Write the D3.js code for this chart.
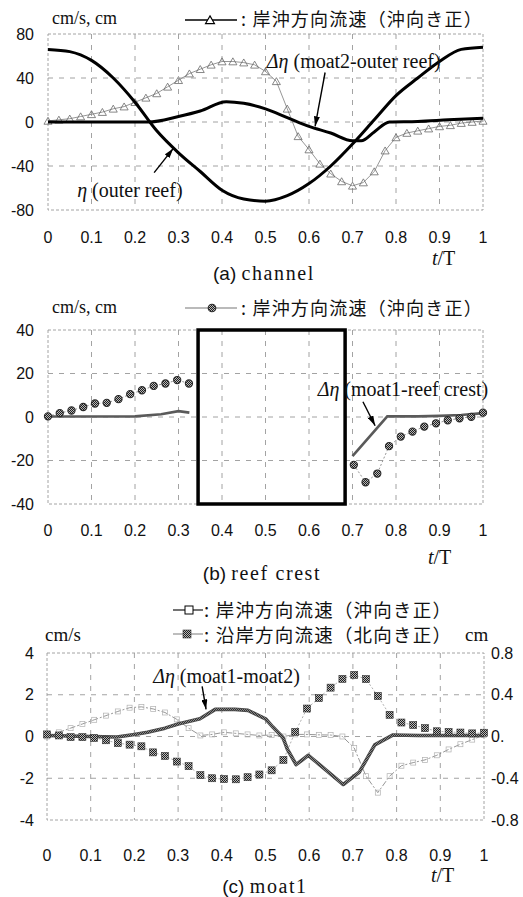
<!DOCTYPE html>
<html>
<head>
<meta charset="utf-8">
<script src="https://cdn.jsdelivr.net/npm/d3@7"></script>
<style>
  body { margin: 0; background: #fff; }
  svg { display: block; }
</style>
</head>
<body>
<svg id="chart" width="523" height="897"></svg>
<script>
// ---------------- shared axis data ----------------
const tTicks = [0, 0.1, 0.2, 0.3, 0.4, 0.5, 0.6, 0.7, 0.8, 0.9, 1];
const tTickLabels = ["0", "0.1", "0.2", "0.3", "0.4", "0.5", "0.6", "0.7", "0.8", "0.9", "1"];

// ---------------- (a) channel ----------------
const aYTicks = [-80, -40, 0, 40, 80];
const aVelT = [0, 0.025, 0.05, 0.075, 0.1, 0.125, 0.15, 0.175, 0.2, 0.225, 0.25, 0.275, 0.3, 0.325,
  0.35, 0.375, 0.4, 0.425, 0.45, 0.475, 0.5, 0.525, 0.55, 0.575, 0.6, 0.625, 0.65, 0.675, 0.7,
  0.725, 0.75, 0.775, 0.8, 0.825, 0.85, 0.875, 0.9, 0.925, 0.95, 0.975, 1];
const aVel = [1, 2, 3, 5, 7, 9, 12, 14, 18, 22, 26, 32, 38, 44, 48, 52, 55, 55, 54, 52, 46, 37, 12,
  -13, -25, -38, -47, -54, -58, -55, -45, -26, -14, -10, -8, -6, -4, -3, -1, 0, 1];
const aEtaT = [0, 0.05, 0.1, 0.15, 0.2, 0.25, 0.3, 0.35, 0.4, 0.45, 0.5, 0.55, 0.6, 0.65, 0.7,
  0.75, 0.8, 0.85, 0.9, 0.95, 1];
const aEta = [66, 64, 56, 40, 18, -8, -28, -45, -62, -70, -72, -67, -56, -40, -20, 2, 24, 40, 55, 66, 68];
const aDEtaT = [0, 0.1, 0.2, 0.23, 0.3, 0.35, 0.41, 0.45, 0.5, 0.55, 0.6, 0.65, 0.7, 0.72, 0.75,
  0.785, 0.85, 0.92, 1];
const aDEta = [0, 0, 0, 0, 5, 10, 18.5, 17, 12, 4, -4, -10, -17, -17, -9, 0, 0.5, 2, 3.5];

// ---------------- (b) reef crest ----------------
const bYTicks = [-40, -20, 0, 20, 40];
const bVelT1 = [0, 0.027, 0.054, 0.081, 0.108, 0.135, 0.162, 0.189, 0.216, 0.243, 0.27, 0.297, 0.324];
const bVel1 = [0.3, 1.8, 3, 4.6, 6.2, 6.5, 8.2, 10.5, 12.3, 14.3, 15.4, 17, 15.4];
const bVelT2 = [0.703, 0.73, 0.757, 0.784, 0.811, 0.838, 0.865, 0.892, 0.919, 0.946, 0.973, 1];
const bVel2 = [-22, -30, -26, -13.4, -9, -6.7, -4.4, -2.9, -1.5, -0.6, 0.1, 2];
const bDEtaT1 = [0, 0.1, 0.2, 0.26, 0.3, 0.325];
const bDEta1 = [0.2, 0.2, 0.3, 1.3, 2.7, 2.0];
const bDEtaT2 = [0.7, 0.78, 0.85, 0.9, 0.95, 1];
const bDEta2 = [-18, 0.3, 0.3, 0.5, 0.9, 1.8];
const bGapRange = [0.345, 0.683];   // interval without measurements (boxed)

// ---------------- (c) moat1 ----------------
const cYTicks = [-4, -2, 0, 2, 4];
const cY2Ticks = [-0.8, -0.4, 0, 0.4, 0.8];
const cY2TickLabels = ["-0.8", "-0.4", "0.", "0.4", "0.8"];
const cT = [0, 0.027, 0.054, 0.081, 0.108, 0.135, 0.162, 0.189, 0.216, 0.243, 0.27, 0.297, 0.324,
  0.351, 0.378, 0.405, 0.432, 0.459, 0.486, 0.514, 0.541, 0.568, 0.595, 0.622, 0.649, 0.676, 0.703,
  0.73, 0.757, 0.784, 0.811, 0.838, 0.865, 0.892, 0.919, 0.946, 0.973, 1];
const cCross = [0, 0.2, 0.4, 0.6, 0.8, 1.0, 1.2, 1.38, 1.42, 1.32, 1.15, 0.82, 0.4, 0.05, 0.1, 0.2,
  0.15, 0.1, 0.05, 0.07, 0, 0.1, 0.1, 0.08, 0.07, 0, -0.55, -1.9, -2.69, -1.9, -1.4, -1.25, -1.12,
  -0.9, -0.62, -0.37, -0.15, 0.07];
const cLong = [0.1, 0.05, -0.03, -0.03, -0.07, -0.18, -0.32, -0.39, -0.47, -0.76, -0.93, -1.2, -1.42,
  -1.85, -2.0, -2.04, -2.05, -1.95, -1.82, -1.62, -1.12, 0.22, 1.34, 1.84, 2.34, 2.76, 2.95, 2.75,
  1.94, 1.04, 0.67, 0.55, 0.4, 0.25, 0.22, 0.19, 0.15, 0.18];
const cDEtaT = [0, 0.1, 0.16, 0.2, 0.23, 0.27, 0.3, 0.35, 0.385, 0.43, 0.46, 0.5, 0.517, 0.54, 0.55,
  0.57, 0.598, 0.678, 0.715, 0.75, 0.792, 0.85, 1];
const cDEta = [0.01, 0, -0.005, 0.02, 0.04, 0.08, 0.12, 0.17, 0.26, 0.26, 0.25, 0.17, 0.09, -0.01,
  -0.12, -0.27, -0.18, -0.46, -0.34, -0.08, 0.015, 0.01, 0.01];

// ---------------- drawing helpers ----------------
const svg = d3.select("#chart");
const SANS = "'Liberation Sans', Arial, sans-serif";
const SERIF = "'Liberation Serif', 'Times New Roman', serif";
const CJK = "'Noto Sans CJK JP', 'Noto Sans CJK SC', sans-serif";

svg.append("rect").attr("width", 523).attr("height", 897).attr("fill", "#fff");

const defs = svg.append("defs");
const checker = defs.append("pattern").attr("id", "checker")
  .attr("width", 2).attr("height", 2).attr("patternUnits", "userSpaceOnUse");
checker.append("rect").attr("width", 2).attr("height", 2).attr("fill", "#b8b8b8");
checker.append("rect").attr("width", 1).attr("height", 1).attr("fill", "#1e1e1e");
checker.append("rect").attr("x", 1).attr("y", 1).attr("width", 1).attr("height", 1).attr("fill", "#1e1e1e");

defs.append("marker").attr("id", "arrowhead")
  .attr("viewBox", "0 0 10 6").attr("refX", 10).attr("refY", 3)
  .attr("markerWidth", 10).attr("markerHeight", 6).attr("markerUnits", "userSpaceOnUse")
  .attr("orient", "auto")
  .append("path").attr("d", "M0,0 L10,3 L0,6 Z").attr("fill", "#000");

const zip = (ts, vs) => ts.map((t, i) => ({ t, v: vs[i] }));

function panel(cfg) {
  const x = d3.scaleLinear().domain([0, 1]).range(cfg.xr);
  const y = d3.scaleLinear().domain(cfg.yd).range(cfg.yr);
  const g = svg.append("g");

  // grid
  const grid = g.append("g").attr("stroke", "#8c8c8c").attr("stroke-width", 0.8)
    .attr("stroke-dasharray", "5,6").attr("fill", "none");
  grid.selectAll("line.v").data(tTicks.slice(1, -1)).join("line")
    .attr("x1", d => x(d)).attr("x2", d => x(d))
    .attr("y1", cfg.yr[1]).attr("y2", cfg.yr[0]);
  grid.selectAll("line.h").data(cfg.yTicks.slice(1, -1)).join("line")
    .attr("x1", cfg.xr[0]).attr("x2", cfg.xr[1])
    .attr("y1", d => y(d)).attr("y2", d => y(d));
  // frame
  g.append("rect").attr("x", cfg.xr[0]).attr("y", cfg.yr[1])
    .attr("width", cfg.xr[1] - cfg.xr[0]).attr("height", cfg.yr[0] - cfg.yr[1])
    .attr("fill", "none").attr("stroke", "#9a9a9a").attr("stroke-width", 0.9)
    .attr("stroke-dasharray", "3,2");

  // left tick labels
  g.append("g").selectAll("text").data(cfg.yTicks).join("text")
    .attr("x", 34).attr("y", d => y(d)).attr("text-anchor", "end")
    .attr("dominant-baseline", "central")
    .attr("font-family", SANS).attr("font-size", 16).attr("fill", "#111")
    .text(d => d);
  // bottom tick labels
  g.append("g").selectAll("text").data(tTicks).join("text")
    .attr("x", d => x(d)).attr("y", cfg.xLabelY).attr("text-anchor", "middle")
    .attr("dominant-baseline", "central")
    .attr("font-family", SANS).attr("font-size", 16).attr("fill", "#111")
    .text((d, i) => tTickLabels[i]);

  // t/T axis title
  const tt = g.append("text").attr("x", cfg.tTx).attr("y", cfg.tTy)
    .attr("dominant-baseline", "central")
    .attr("font-family", SERIF).attr("font-size", 20).attr("fill", "#111");
  tt.append("tspan").attr("font-style", "italic").text("t");
  tt.append("tspan").text("/T");

  // caption
  const cap = g.append("text").attr("x", cfg.capX).attr("y", cfg.capY)
    .attr("text-anchor", "middle").attr("dominant-baseline", "central")
    .attr("font-size", 20).attr("fill", "#111");
  cap.append("tspan").attr("font-family", SANS).attr("font-size", 19).text(cfg.capTag + " ");
  cap.append("tspan").attr("font-family", SERIF).attr("letter-spacing", 1.6).text(cfg.capName);

  return { x, y, g };
}

function legendLabel(xPos, yPos, txt, size) {
  svg.append("text").attr("x", xPos).attr("y", yPos)
    .attr("dominant-baseline", "central")
    .attr("font-family", CJK).attr("font-size", size).attr("fill", "#111")
    .attr("letter-spacing", 1.2)
    .text(txt);
}

function serifText(xPos, yPos, txt, size) {
  svg.append("text").attr("x", xPos).attr("y", yPos)
    .attr("dominant-baseline", "central")
    .attr("font-family", SERIF).attr("font-size", size).attr("fill", "#111")
    .text(txt);
}

function deltaEtaLabel(xPos, yPos, rest, size) {
  const t = svg.append("text").attr("x", xPos).attr("y", yPos)
    .attr("font-family", SERIF).attr("font-size", size).attr("fill", "#111");
  t.append("tspan").attr("font-style", "italic").text("Δη");
  t.append("tspan").text(" " + rest);
}

function arrow(p, from, to) {
  svg.append("line")
    .attr("x1", p.x(from[0])).attr("y1", p.y(from[1]))
    .attr("x2", p.x(to[0])).attr("y2", p.y(to[1]))
    .attr("stroke", "#000").attr("stroke-width", 1.4)
    .attr("marker-end", "url(#arrowhead)");
}

// ================= (a) channel =================
const A = panel({
  xr: [48, 483], yd: [-80, 80], yr: [210, 34], yTicks: aYTicks,
  xLabelY: 237, tTx: 432, tTy: 258, capX: 264, capY: 273,
  capTag: "(a)", capName: "channel"
});
{
  const lineA = d3.line().x(d => A.x(d.t)).y(d => A.y(d.v));
  const smooth = d3.line().x(d => A.x(d.t)).y(d => A.y(d.v)).curve(d3.curveMonotoneX);
  const vel = zip(aVelT, aVel);
  A.g.append("path").datum(vel).attr("d", lineA)
    .attr("fill", "none").attr("stroke", "#8a8a8a").attr("stroke-width", 0.9);
  A.g.append("g").selectAll("path").data(vel).join("path")
    .attr("transform", d => `translate(${A.x(d.t)},${A.y(d.v) + 1})`)
    .attr("d", d3.symbol(d3.symbolTriangle, 28))
    .attr("fill", "none").attr("stroke", "#6a6a6a").attr("stroke-width", 0.8);
  A.g.append("path").datum(zip(aEtaT, aEta)).attr("d", smooth)
    .attr("fill", "none").attr("stroke", "#000").attr("stroke-width", 3);
  A.g.append("path").datum(zip(aDEtaT, aDEta)).attr("d", smooth)
    .attr("fill", "none").attr("stroke", "#000").attr("stroke-width", 3);

  serifText(52, 18, "cm/s, cm", 18);
  svg.append("line").attr("x1", 185).attr("x2", 237).attr("y1", 20).attr("y2", 20)
    .attr("stroke", "#000").attr("stroke-width", 1.3);
  svg.append("path").attr("transform", "translate(210,21)")
    .attr("d", d3.symbol(d3.symbolTriangle, 34))
    .attr("fill", "#fff").attr("stroke", "#000").attr("stroke-width", 1.2);
  legendLabel(241, 18, ": 岸沖方向流速（沖向き正）", 18);

  deltaEtaLabel(A.x(0.503), A.y(49), "(moat2-outer reef)", 20);
  arrow(A, [0.637, 45], [0.614, -4]);
  const eta = svg.append("text").attr("x", A.x(0.067)).attr("y", A.y(-68))
    .attr("font-family", SERIF).attr("font-size", 20).attr("fill", "#111");
  eta.append("tspan").attr("font-style", "italic").text("η");
  eta.append("tspan").text(" (outer reef)");
  arrow(A, [0.244, -46], [0.288, -24]);
}

// ================= (b) reef crest =================
const B = panel({
  xr: [48, 483], yd: [-40, 40], yr: [504, 330], yTicks: bYTicks,
  xLabelY: 530, tTx: 428, tTy: 557, capX: 262, capY: 573,
  capTag: "(b)", capName: "reef crest"
});
{
  const lineB = d3.line().x(d => B.x(d.t)).y(d => B.y(d.v));
  const v1 = zip(bVelT1, bVel1), v2 = zip(bVelT2, bVel2);
  [v1, v2].forEach(seg => {
    B.g.append("path").datum(seg).attr("d", lineB)
      .attr("fill", "none").attr("stroke", "#8a8a8a").attr("stroke-width", 0.9)
      .attr("stroke-dasharray", "2,2");
  });
  [zip(bDEtaT1, bDEta1), zip(bDEtaT2, bDEta2)].forEach(seg => {
    B.g.append("path").datum(seg).attr("d", lineB)
      .attr("fill", "none").attr("stroke", "#5a5a5a").attr("stroke-width", 2.6);
  });
  B.g.append("g").selectAll("circle").data(v1.concat(v2)).join("circle")
    .attr("cx", d => B.x(d.t)).attr("cy", d => B.y(d.v)).attr("r", 3.6)
    .attr("fill", "url(#checker)").attr("stroke", "#2a2a2a").attr("stroke-width", 1.1);
  B.g.append("rect")
    .attr("x", B.x(bGapRange[0])).attr("y", B.y(40))
    .attr("width", B.x(bGapRange[1]) - B.x(bGapRange[0]))
    .attr("height", B.y(-40) - B.y(40))
    .attr("fill", "none").attr("stroke", "#000").attr("stroke-width", 3.5);

  serifText(52, 307, "cm/s, cm", 18);
  svg.append("line").attr("x1", 185).attr("x2", 237).attr("y1", 308).attr("y2", 308)
    .attr("stroke", "#777").attr("stroke-width", 1.1);
  svg.append("circle").attr("cx", 212).attr("cy", 308).attr("r", 3.8)
    .attr("fill", "url(#checker)").attr("stroke", "#2a2a2a").attr("stroke-width", 1.1);
  legendLabel(241, 307, ": 岸沖方向流速（沖向き正）", 18);

  deltaEtaLabel(B.x(0.62), B.y(9.5), "(moat1-reef crest)", 20);
  arrow(B, [0.724, 7], [0.752, -4]);
}

// ================= (c) moat1 =================
const C = panel({
  xr: [47, 484], yd: [-4, 4], yr: [820, 653], yTicks: cYTicks,
  xLabelY: 855, tTx: 431, tTy: 875, capX: 265, capY: 886,
  capTag: "(c)", capName: "moat1"
});
{
  const y2 = d3.scaleLinear().domain([-0.8, 0.8]).range([820, 653]);
  C.g.append("g").selectAll("text").data(cY2Ticks).join("text")
    .attr("x", 491).attr("y", d => y2(d)).attr("dominant-baseline", "central")
    .attr("font-family", SANS).attr("font-size", 16).attr("fill", "#111")
    .text((d, i) => cY2TickLabels[i]);

  const lineC = d3.line().x(d => C.x(d.t)).y(d => C.y(d.v));
  const cross = zip(cT, cCross), along = zip(cT, cLong);
  C.g.append("path").datum(cross).attr("d", lineC)
    .attr("fill", "none").attr("stroke", "#8a8a8a").attr("stroke-width", 0.9)
    .attr("stroke-dasharray", "6,2,2,2");
  C.g.append("g").selectAll("rect").data(cross).join("rect")
    .attr("x", d => C.x(d.t) - 2.5).attr("y", d => C.y(d.v) - 2.5)
    .attr("width", 5).attr("height", 5)
    .attr("fill", "none").attr("stroke", "#b0b0b0").attr("stroke-width", 0.7);
  C.g.append("path").datum(along).attr("d", lineC)
    .attr("fill", "none").attr("stroke", "#9a9a9a").attr("stroke-width", 0.8)
    .attr("stroke-dasharray", "2,2");
  const dEtaLine = d3.line().x(d => C.x(d.t)).y(d => y2(d.v));
  C.g.append("path").datum(zip(cDEtaT, cDEta)).attr("d", dEtaLine)
    .attr("fill", "none").attr("stroke", "#4a4a4a").attr("stroke-width", 3.6)
    .attr("stroke-linejoin", "round");
  C.g.append("path").datum(zip(cDEtaT, cDEta)).attr("d", dEtaLine)
    .attr("fill", "none").attr("stroke", "url(#checker)").attr("stroke-width", 2)
    .attr("stroke-linejoin", "round").attr("opacity", 0.6);
  C.g.append("g").selectAll("rect").data(along).join("rect")
    .attr("x", d => C.x(d.t) - 3.5).attr("y", d => C.y(d.v) - 3.5)
    .attr("width", 7).attr("height", 7)
    .attr("fill", "url(#checker)").attr("stroke", "#333").attr("stroke-width", 0.6);

  // legend
  svg.append("line").attr("x1", 173).attr("x2", 203).attr("y1", 610).attr("y2", 610)
    .attr("stroke", "#000").attr("stroke-width", 1.1);
  svg.append("rect").attr("x", 185).attr("y", 606).attr("width", 8).attr("height", 8)
    .attr("fill", "#fff").attr("stroke", "#000").attr("stroke-width", 1);
  legendLabel(204, 609, ": 岸沖方向流速（沖向き正）", 18.5);
  svg.append("line").attr("x1", 173).attr("x2", 203).attr("y1", 634).attr("y2", 634)
    .attr("stroke", "#888").attr("stroke-width", 1.1);
  svg.append("rect").attr("x", 183).attr("y", 630).attr("width", 8).attr("height", 8)
    .attr("fill", "url(#checker)").attr("stroke", "#333").attr("stroke-width", 0.6);
  legendLabel(204, 634, ": 沿岸方向流速（北向き正）", 18.5);
  serifText(45, 634, "cm/s", 19);
  serifText(465, 634, "cm", 19);

  deltaEtaLabel(C.x(0.243), C.y(2.55), "(moat1-moat2)", 20);
  arrow(C, [0.355, 2.4], [0.364, 1.3]);
}
</script>
</body>
</html>
